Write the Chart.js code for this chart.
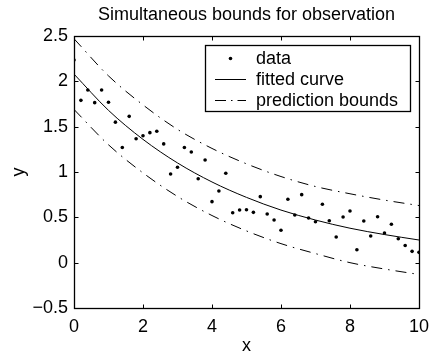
<!DOCTYPE html>
<html>
<head>
<meta charset="utf-8">
<script src="https://cdn.jsdelivr.net/npm/chart.js@4.4.1/dist/chart.umd.min.js"></script>
<style>
  html, body { margin: 0; padding: 0; background: #fff; }
  #wrap { width: 437px; height: 357px; }
</style>
</head>
<body>
<div id="wrap"><canvas id="c" width="437" height="357"></canvas></div>
<script>
const titleText = "Simultaneous bounds for observation";
const xLabel = "x";
const yLabel = "y";
const legendLabels = ["data", "fitted curve", "prediction bounds"];

const xData = [0,0.2,0.4,0.6,0.8,1.0,1.2,1.4,1.6,1.8,2.0,2.2,2.4,2.6,2.8,3.0,3.2,3.4,3.6,3.8,
  4.0,4.2,4.4,4.6,4.8,5.0,5.2,5.4,5.6,5.8,6.0,6.2,6.4,6.6,6.8,7.0,7.2,7.4,7.6,7.8,
  8.0,8.2,8.4,8.6,8.8,9.0,9.2,9.4,9.6,9.8,10.0];
const yData = [2.235,1.79,1.904,1.765,1.904,1.77,1.55,1.27,1.614,1.367,1.40,1.434,1.449,1.31,0.978,1.052,1.27,1.22,0.926,1.132,
  0.673,0.79,0.986,0.551,0.581,0.584,0.555,0.728,0.537,0.47,0.357,0.699,0.526,0.75,0.493,0.452,0.644,0.463,0.283,0.504,
  0.57,0.143,0.46,0.294,0.507,0.327,0.423,0.264,0.19,0.125,0.114];

const curveX = [0,1,2,3,4,5,6,7,8,9,10];
const fitted = [2.08,1.68,1.36,1.10,0.89,0.72,0.58,0.47,0.38,0.31,0.25];
const upper  = [2.47,2.06,1.74,1.47,1.26,1.09,0.95,0.84,0.76,0.69,0.63];
const lower  = [1.69,1.30,0.99,0.73,0.52,0.35,0.21,0.10,0.00,-0.07,-0.13];

const xTicks = [0,2,4,6,8,10];
const yTicks = [-0.5,0,0.5,1,1.5,2,2.5];

const FONT = "'Liberation Sans', Arial, Helvetica, sans-serif";
const FS = 18;
const DASHDOT = [11,6,1.5,6];

function pts(xs, ys) { return xs.map((x, i) => ({x: x, y: ys[i]})); }
function fmt(v) { return String(v).replace('-', '\u2212'); }

const boxTicks = {
  id: 'boxTicks',
  afterDraw(chart) {
    const ctx = chart.ctx;
    const a = chart.chartArea;
    const xs = chart.scales.x, ys = chart.scales.y;
    const L = Math.round(a.left) + 0.5, R = Math.round(a.right) + 0.5;
    const T = Math.round(a.top) + 0.5, B = Math.round(a.bottom) + 0.5;
    ctx.save();
    ctx.strokeStyle = '#000';
    ctx.lineWidth = 1.3;
    ctx.strokeRect(L, T, R - L, B - T);
    ctx.lineWidth = 1;
    const tl = 4;
    ctx.beginPath();
    xTicks.forEach(v => {
      const px = Math.round(xs.getPixelForValue(v)) + 0.5;
      ctx.moveTo(px, B); ctx.lineTo(px, B - tl);
      ctx.moveTo(px, T); ctx.lineTo(px, T + tl);
    });
    yTicks.forEach(v => {
      const py = Math.round(ys.getPixelForValue(v)) + 0.5;
      ctx.moveTo(L, py); ctx.lineTo(L + tl, py);
      ctx.moveTo(R, py); ctx.lineTo(R - tl, py);
    });
    ctx.stroke();

    // legend
    const lx = 205.5, ly = 45.5, lw = 205, lh = 66;
    ctx.fillStyle = '#fff';
    ctx.fillRect(lx, ly, lw, lh);
    ctx.lineWidth = 1.3;
    ctx.strokeRect(lx, ly, lw, lh);
    const rows = [58.5, 79.5, 100.5];
    ctx.font = FS + 'px ' + FONT;
    ctx.textBaseline = 'middle';
    ctx.textAlign = 'left';
    ctx.fillStyle = '#000';
    ctx.beginPath();
    ctx.arc(230.5, rows[0], 1.8, 0, Math.PI * 2);
    ctx.fill();
    ctx.lineWidth = 1;
    ctx.beginPath();
    ctx.moveTo(215, rows[1]); ctx.lineTo(246, rows[1]);
    ctx.stroke();
    ctx.setLineDash([11,5,1.5,5]);
    ctx.beginPath();
    ctx.moveTo(215, rows[2]); ctx.lineTo(246, rows[2]);
    ctx.stroke();
    ctx.setLineDash([]);
    legendLabels.forEach((t, i) => ctx.fillText(t, 256, rows[i] + 1));
    ctx.restore();
  }
};

new Chart(document.getElementById('c'), {
  type: 'scatter',
  data: {
    datasets: [
      { label: legendLabels[0], data: pts(xData, yData), showLine: false,
        pointRadius: 1.8, pointBackgroundColor: '#000', pointBorderWidth: 0, borderColor: '#000' },
      { label: legendLabels[1], data: pts(curveX, fitted), showLine: true,
        pointRadius: 0, borderColor: '#000', borderWidth: 1, cubicInterpolationMode: 'monotone' },
      { label: legendLabels[2], data: pts(curveX, upper), showLine: true,
        pointRadius: 0, borderColor: '#000', borderWidth: 1, borderDash: DASHDOT, cubicInterpolationMode: 'monotone' },
      { label: legendLabels[2], data: pts(curveX, lower), showLine: true,
        pointRadius: 0, borderColor: '#000', borderWidth: 1, borderDash: DASHDOT, cubicInterpolationMode: 'monotone' }
    ]
  },
  options: {
    responsive: false,
    animation: false,
    devicePixelRatio: 1,
    layout: { padding: { left: 0, right: 17, top: 0, bottom: 0 } },
    plugins: {
      legend: { display: false },
      tooltip: { enabled: false },
      title: {
        display: true, text: titleText, color: '#000', fullSize: false,
        font: { family: FONT, size: FS, weight: 'normal' },
        padding: { top: 4, bottom: 10.4 }
      }
    },
    scales: {
      x: {
        type: 'linear', min: 0, max: 10,
        grid: { display: false, drawTicks: false },
        border: { display: false },
        ticks: { stepSize: 2, color: '#000', padding: 8, maxRotation: 0,
          font: { family: FONT, size: FS }, callback: v => fmt(v) },
        title: { display: true, text: xLabel, color: '#000', padding: { top: 3, bottom: 0 },
          font: { family: FONT, size: FS } },
        afterFit(s) { s.height = 49; }
      },
      y: {
        type: 'linear', min: -0.5, max: 2.5,
        grid: { display: false, drawTicks: false },
        border: { display: false },
        ticks: { stepSize: 0.5, color: '#000', padding: 6,
          font: { family: FONT, size: FS }, callback: v => fmt(v) },
        title: { display: true, text: yLabel, color: '#000', padding: { top: 8, bottom: 0 },
          font: { family: FONT, size: FS } },
        afterFit(s) { s.width = 74; }
      }
    }
  },
  plugins: [boxTicks]
});
</script>
</body>
</html>
